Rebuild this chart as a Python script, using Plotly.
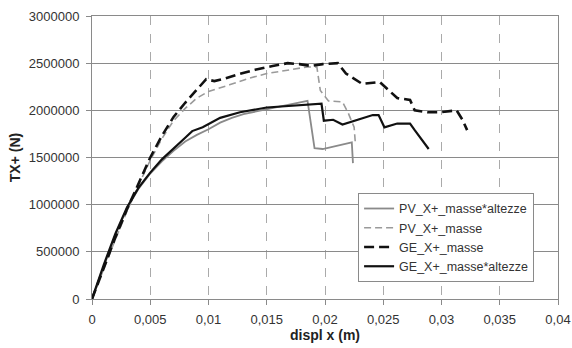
import plotly.graph_objects as go

# ---- data ----
pv_alt_x = [0, 0.001, 0.002, 0.003, 0.004, 0.005, 0.006, 0.007, 0.008, 0.009, 0.010, 0.011, 0.012, 0.013,
            0.015, 0.017, 0.0185, 0.0191, 0.0198, 0.0223, 0.0224]
pv_alt_y = [0, 350000, 680000, 960000, 1170000, 1330000, 1460000, 1570000, 1670000, 1740000, 1800000,
            1870000, 1920000, 1960000, 2010000, 2060000, 2100000, 1600000, 1590000, 1660000, 1440000]

pv_mas_x = [0, 0.001, 0.002, 0.003, 0.004, 0.005, 0.006, 0.007, 0.008, 0.009, 0.010, 0.0118, 0.0135,
            0.015, 0.017, 0.0185, 0.0193, 0.0196, 0.0203, 0.0215, 0.022, 0.0225, 0.0226]
pv_mas_y = [0, 320000, 630000, 930000, 1210000, 1470000, 1700000, 1890000, 2020000, 2130000, 2200000,
            2270000, 2340000, 2390000, 2430000, 2460000, 2460000, 2210000, 2100000, 2090000, 1970000,
            1820000, 1660000]

ge_mas_x = [0, 0.001, 0.002, 0.003, 0.004, 0.005, 0.006, 0.007, 0.008, 0.009, 0.0098, 0.0105, 0.0112,
            0.0125, 0.014, 0.0155, 0.0168, 0.0178, 0.0188, 0.0198, 0.0207, 0.0211, 0.0218, 0.0232, 0.0247,
            0.0262, 0.0273, 0.0277, 0.0288, 0.0299, 0.0313, 0.0318, 0.0322]
ge_mas_y = [0, 330000, 650000, 950000, 1230000, 1500000, 1730000, 1930000, 2080000, 2220000, 2330000,
            2310000, 2330000, 2380000, 2430000, 2470000, 2500000, 2490000, 2470000, 2490000, 2500000,
            2500000, 2390000, 2280000, 2300000, 2130000, 2110000, 2000000, 1980000, 1980000, 2000000,
            1900000, 1790000]

ge_alt_x = [0, 0.001, 0.002, 0.003, 0.004, 0.005, 0.006, 0.007, 0.008, 0.0086, 0.0095, 0.011, 0.0127,
            0.015, 0.0173, 0.019, 0.0197, 0.0199, 0.0207, 0.0215, 0.0227, 0.0241, 0.0246, 0.0251, 0.0262,
            0.0273, 0.0277, 0.0282, 0.0289]
ge_alt_y = [0, 360000, 690000, 970000, 1180000, 1340000, 1480000, 1600000, 1710000, 1780000, 1820000,
            1920000, 1980000, 2030000, 2050000, 2060000, 2070000, 1890000, 1900000, 1850000, 1900000,
            1950000, 1950000, 1820000, 1860000, 1860000, 1790000, 1710000, 1590000]

x_tickvals = [0, 0.005, 0.01, 0.015, 0.02, 0.025, 0.03, 0.035, 0.04]
x_ticktext = ["0", "0,005", "0,01", "0,015", "0,02", "0,025", "0,03", "0,035", "0,04"]
y_tickvals = [0, 500000, 1000000, 1500000, 2000000, 2500000, 3000000]
y_ticktext = ["0", "500000", "1000000", "1500000", "2000000", "2500000", "3000000"]

fig = go.Figure()
fig.add_trace(go.Scatter(x=pv_alt_x, y=pv_alt_y, mode="lines", name="PV_X+_masse*altezze",
                         line=dict(color="#8a8a8a", width=1.8)))
fig.add_trace(go.Scatter(x=pv_mas_x, y=pv_mas_y, mode="lines", name="PV_X+_masse",
                         line=dict(color="#9a9a9a", width=1.6, dash="7px,4px")))
fig.add_trace(go.Scatter(x=ge_mas_x, y=ge_mas_y, mode="lines", name="GE_X+_masse",
                         line=dict(color="#111111", width=2.6, dash="10px,5px")))
fig.add_trace(go.Scatter(x=ge_alt_x, y=ge_alt_y, mode="lines", name="GE_X+_masse*altezze",
                         line=dict(color="#111111", width=2.2)))

font = "Liberation Sans, Arial, sans-serif"
fig.update_layout(
    width=572, height=348,
    margin=dict(l=92, r=14, t=16, b=49),
    paper_bgcolor="white", plot_bgcolor="white",
    font=dict(family=font, size=13, color="#333333"),
    showlegend=True,
    legend=dict(x=0.571, y=0.375, xanchor="left", yanchor="top",
                bgcolor="white", bordercolor="#8a8a8a", borderwidth=1,
                font=dict(size=12.5, color="#333333"), tracegroupgap=0),
    xaxis=dict(range=[0, 0.04], tickvals=x_tickvals, ticktext=x_ticktext, automargin=False,
               showgrid=True, gridcolor="#aaaaaa", griddash="dash", gridwidth=1,
               showline=True, linecolor="#8a8a8a", linewidth=1, mirror=True,
               ticks="outside", ticklen=5, tickcolor="#8a8a8a", zeroline=False,
               ticklabelstandoff=3, ticklabeloverflow="allow",
               title=dict(text="<b>displ x (m)</b>", font=dict(size=14, color="#222222"), standoff=4)),
    yaxis=dict(range=[0, 3000000], tickvals=y_tickvals, ticktext=y_ticktext, automargin=False,
               showgrid=True, gridcolor="#8a8a8a", gridwidth=1,
               showline=True, linecolor="#8a8a8a", linewidth=1, mirror=True,
               ticks="outside", ticklen=5, tickcolor="#8a8a8a", zeroline=False,
               ticklabelstandoff=4,
               title=dict(text="<b>TX+ (N)</b>", font=dict(size=14, color="#222222"), standoff=4)),
)

# remove the default 8px page margin so the figure fills the window exactly
fig.write_html("out.html", config={"displayModeBar": False},
               post_script="document.body.style.margin='0px';")
